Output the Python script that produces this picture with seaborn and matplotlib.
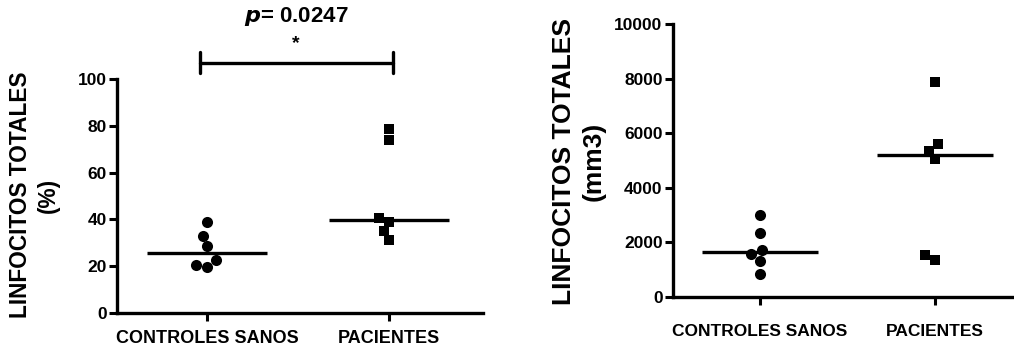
import numpy as np
import pandas as pd
import matplotlib
matplotlib.use('Agg')
import matplotlib.pyplot as plt
import seaborn as sns

# Datos
grupos = ['CONTROLES SANOS', 'PACIENTES']
controles_pct = [39.0, 33.0, 28.6, 22.8, 19.7, 20.7]
pacientes_pct = [78.8, 73.8, 40.7, 38.9, 35.0, 31.1]
controles_mm3 = [3020, 2360, 1740, 1570, 1310, 860]
pacientes_mm3 = [7890, 5600, 5360, 5040, 1550, 1370]
p_valor = '0.0247'

sns.set_theme(style='ticks')
plt.rcParams['font.family'] = ['Liberation Sans', 'DejaVu Sans']
plt.rcParams['font.weight'] = 'bold'
plt.rcParams['text.color'] = 'black'
plt.rcParams['axes.labelcolor'] = 'black'

df_pct = pd.DataFrame({'grupo': [grupos[0]] * len(controles_pct) + [grupos[1]] * len(pacientes_pct),
                       'valor': controles_pct + pacientes_pct})
df_mm3 = pd.DataFrame({'grupo': [grupos[0]] * len(controles_mm3) + [grupos[1]] * len(pacientes_mm3),
                       'valor': controles_mm3 + pacientes_mm3})

fig = plt.figure(figsize=(10.14, 3.5), dpi=100)
ax1 = fig.add_axes([0.1154, 0.1057, 0.3609, 0.6686])
ax2 = fig.add_axes([0.6637, 0.1514, 0.3353, 0.78])

marcadores = ['o', 's']
tamanos = [8.0, 7.4]


def dibujar(ax, df, ylim, yticks, ylabel, xlim, pad_x, fs_x):
    for i, g in enumerate(grupos):
        sns.swarmplot(data=df[df['grupo'] == g], x='grupo', y='valor', order=grupos,
                      marker=marcadores[i], size=tamanos[i], color='black', ax=ax)
        med = np.median(df.loc[df['grupo'] == g, 'valor'])
        ax.hlines(med, i - 0.33, i + 0.33, color='black', linewidth=2.4)
    ax.set_xlim(*xlim)
    ax.set_ylim(*ylim)
    ax.set_yticks(yticks)
    ax.set_xlabel('')
    ax.set_ylabel(ylabel, fontsize=16.3, fontweight='bold', linespacing=1.3, color='black')
    sns.despine(ax=ax)
    for s in ['left', 'bottom']:
        ax.spines[s].set_linewidth(2.4)
        ax.spines[s].set_color('black')
    ax.tick_params(axis='both', width=2.2, length=5.5, color='black', labelcolor='black')
    ax.tick_params(axis='y', labelsize=12.5, pad=2)
    ax.tick_params(axis='x', labelsize=fs_x, pad=pad_x)
    for lab in ax.get_xticklabels() + ax.get_yticklabels():
        lab.set_fontweight('bold')


dibujar(ax1, df_pct, (0, 100), np.arange(0, 101, 20), 'LINFOCITOS TOTALES\n(%)',
        (-0.495, 1.516), 7, 13)
ax1.yaxis.set_label_coords(-0.156, 0.504)

dibujar(ax2, df_mm3, (0, 10000), np.arange(0, 10001, 2000), 'LINFOCITOS TOTALES\n(mm3)',
        (-0.497, 1.446), 14, 12.5)
ax2.yaxis.label.set_fontsize(19)
ax2.yaxis.set_label_coords(-0.197, 0.498)

# Barra de significancia
y_barra = 107
ax1.plot([-0.04, 1.02], [y_barra, y_barra], color='black', linewidth=2.4, clip_on=False)
for xb in [-0.04, 1.02]:
    ax1.plot([xb, xb], [y_barra - 4.5, y_barra + 4.5], color='black', linewidth=2.4, clip_on=False)
ax1.text(0.49, 115, '*', ha='center', va='center', fontsize=14, fontweight='bold', clip_on=False)
ax1.text(0.49, 126.5, r'$\mathbf{\it{p}}$' + '= ' + p_valor, ha='center', va='center',
         fontsize=16, fontweight='bold', clip_on=False)

fig.savefig('out.png', dpi=100)
